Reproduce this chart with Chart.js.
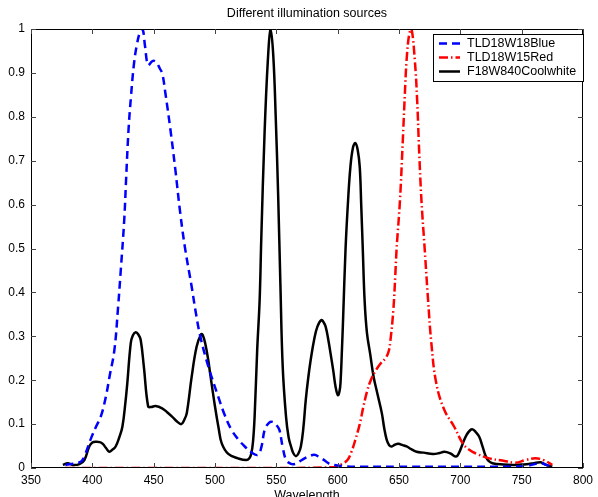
<!DOCTYPE html>
<html>
<head>
    <title>Different illumination sources</title>
    <script src="https://cdn.jsdelivr.net/npm/chart.js"></script>
    <style>
        body { margin: 0; background: #fff; }
        canvas { display: block; }
    </style>
</head>
<body>
    <canvas id="grafico" width="598" height="497"></canvas>

    <script>
        // tick labels
        const xTicks = [350, 400, 450, 500, 550, 600, 650, 700, 750, 800];
        const yTicks = [0, 0.1, 0.2, 0.3, 0.4, 0.5, 0.6, 0.7, 0.8, 0.9, 1];

        const seriesNames = ['TLD18W18Blue', 'TLD18W15Red', 'F18W840Coolwhite'];

        // TLD18W18Blue
        const blueNm = [378, 383, 387, 391, 394, 399, 403, 407, 411, 414, 418, 421, 423, 426, 427.5, 429.5, 431.5, 434, 436.5, 439, 441,
            443, 445.5, 449, 452, 455, 457, 459.6, 463.7, 467.7, 471.7, 475.8, 481, 484, 488, 494.6, 502.7, 508, 513.4, 519, 524.3,
            530, 535, 538, 540.5, 544, 547, 550, 552.5, 555, 558, 561.5, 565, 569, 573, 577, 581, 585, 589, 593, 597, 605, 620, 650,
            700, 740, 755, 762, 766, 770, 775];
        const blueVal = [0.007, 0.009, 0.011, 0.015, 0.03, 0.068, 0.094, 0.118, 0.162, 0.208, 0.269, 0.367, 0.443, 0.565, 0.656, 0.77, 0.846, 0.922, 0.967, 0.994, 1.0,
            0.96, 0.918, 0.927, 0.925, 0.91, 0.899, 0.853, 0.77, 0.679, 0.58, 0.497, 0.413, 0.36, 0.3, 0.231, 0.162, 0.12, 0.087, 0.065, 0.049,
            0.035, 0.03, 0.05, 0.087, 0.103, 0.105, 0.098, 0.087, 0.05, 0.018, 0.01, 0.009, 0.015, 0.022, 0.027, 0.03, 0.025, 0.018, 0.01, 0.007, 0.004, 0.003, 0.003,
            0.003, 0.003, 0.005, 0.01, 0.011, 0.007, 0.003];

        // TLD18W15Red
        const redNm = [378, 450, 550, 598, 604, 608, 611, 614.4, 618, 621, 624, 627, 631, 635, 639, 641.5, 643, 645.4, 647, 648, 650.8,
            653, 654.8, 656.2, 658.4, 660.2, 662.9, 664.8, 666.4, 668.3, 671, 673.7, 676.4, 680.4, 687, 695, 702, 707, 712.7, 723.5,
            734.3, 745, 753, 761, 768, 775];
        const redVal = [0, 0, 0, 0.002, 0.01, 0.018, 0.035, 0.064, 0.1, 0.14, 0.175, 0.2, 0.222, 0.238, 0.25, 0.265, 0.29, 0.36, 0.44, 0.497, 0.61,
            0.74, 0.853, 0.929, 0.99, 1.0, 0.929, 0.838, 0.724, 0.61, 0.497, 0.383, 0.284, 0.193, 0.132, 0.094, 0.056, 0.042, 0.033, 0.022,
            0.017, 0.012, 0.018, 0.022, 0.018, 0.007];

        // F18W840Coolwhite
        const whiteNm = [376, 380, 384, 389.5, 393.5, 397.5, 400, 403, 406, 408.5, 411, 413.8, 416.5, 419, 422, 424.5, 427, 428.5, 431.3, 433,
            435.4, 437.5, 439.4, 442, 445.5, 448, 451.5, 456.9, 461, 465, 469, 472.5, 475, 477, 481, 485, 488.7, 490, 492, 494.5, 496,
            500, 503, 505.5, 510.8, 518.8, 525.5, 528, 529.6, 531, 532.3, 534.4, 536.4, 537.7, 540.4, 543.1, 545.3, 547.5, 549.5, 551.5,
            553.3, 555.2, 557.9, 560, 562, 564, 566, 568, 570, 572, 574, 576, 578, 581, 583.5, 586.7, 588.5, 590.2, 592.5, 594.2, 596.5,
            598.3, 600.2, 601.5, 602.3, 603.5, 604.5, 606.4, 608.5, 610.4, 612.5, 614.4, 616.3, 618, 619.2, 620.5, 622, 623.9, 626.5,
            629.3, 632.5, 636, 638, 640, 642, 644.1, 646.5, 649.5, 653, 656.2, 660, 664.3, 670, 677.7, 683, 687, 692, 696.6, 699, 702,
            705, 708, 710, 712.5, 715.4, 718, 720.8, 723, 726.2, 735, 742.4, 750, 755.8, 760, 765.3, 768, 772, 775];
        const whiteVal = [0.007, 0.011, 0.007, 0.009, 0.018, 0.049, 0.058, 0.06, 0.059, 0.055, 0.046, 0.037, 0.042, 0.049, 0.07, 0.094, 0.15, 0.193, 0.284, 0.302,
            0.309, 0.304, 0.292, 0.231, 0.14, 0.139, 0.141, 0.136, 0.127, 0.117, 0.106, 0.1, 0.11, 0.125, 0.208, 0.276, 0.305, 0.303, 0.284, 0.246, 0.216,
            0.14, 0.09, 0.056, 0.032, 0.022, 0.018, 0.022, 0.033, 0.06, 0.117, 0.269, 0.383, 0.519, 0.762, 0.929, 1.0, 0.94, 0.8, 0.62,
            0.42, 0.231, 0.117, 0.07, 0.049, 0.033, 0.027, 0.033, 0.049, 0.09, 0.155, 0.205, 0.246, 0.295, 0.322, 0.337, 0.332, 0.322, 0.29, 0.261, 0.22,
            0.185, 0.166, 0.175, 0.193, 0.27, 0.345, 0.497, 0.61, 0.686, 0.73, 0.74, 0.725, 0.686, 0.6, 0.497, 0.38, 0.307, 0.26,
            0.208, 0.168, 0.125, 0.09, 0.064, 0.052, 0.049, 0.053, 0.055, 0.052, 0.049, 0.043, 0.037, 0.035, 0.032, 0.034, 0.037, 0.033, 0.026, 0.035, 0.056,
            0.075, 0.086, 0.088, 0.082, 0.071, 0.05, 0.026, 0.016, 0.011, 0.008, 0.007, 0.008, 0.009, 0.011, 0.013, 0.01, 0.005, 0.004];

        const fonte = '"Liberation Sans", Arial, Helvetica, sans-serif';
        const estilos = [
            { cor: '#0000ff', traco: [8, 5] },
            { cor: '#ff0000', traco: [9, 3, 1.5, 3] },
            { cor: '#000000', traco: [] }
        ];

        function pontos(xs, ys) {
            return xs.map((x, i) => ({ x: x, y: ys[i] }));
        }

        // caixa, ticks para dentro, legenda e titulos no estilo MATLAB
        const moldura = {
            id: 'moldura',
            afterDraw(chart) {
                const ctx = chart.ctx;
                const a = chart.chartArea;
                const sx = chart.scales.x, sy = chart.scales.y;
                ctx.save();
                ctx.strokeStyle = '#000';
                ctx.lineWidth = 1;
                ctx.setLineDash([]);
                ctx.strokeRect(a.left + 0.5, a.top + 0.5, a.right - a.left - 1, a.bottom - a.top - 1);

                ctx.strokeStyle = '#444';
                ctx.beginPath();
                xTicks.forEach(v => {
                    const px = Math.round(sx.getPixelForValue(v)) + 0.5;
                    ctx.moveTo(px, a.bottom); ctx.lineTo(px, a.bottom - 5);
                    ctx.moveTo(px, a.top); ctx.lineTo(px, a.top + 5);
                });
                yTicks.forEach(v => {
                    const py = Math.round(sy.getPixelForValue(v)) + 0.5;
                    ctx.moveTo(a.left, py); ctx.lineTo(a.left + 5, py);
                    ctx.moveTo(a.right, py); ctx.lineTo(a.right - 5, py);
                });
                ctx.stroke();

                // titulo e rotulo do eixo x
                ctx.fillStyle = '#000';
                ctx.textAlign = 'center';
                ctx.textBaseline = 'middle';
                ctx.font = '12.5px ' + fonte;
                ctx.fillText('Different illumination sources', (a.left + a.right) / 2, 14);
                ctx.font = '12.5px ' + fonte;
                ctx.fillText('Wavelength', (a.left + a.right) / 2, 496);

                // legenda
                const lx = 433, ly = 34, lw = 150, lh = 47;
                ctx.fillStyle = '#fff';
                ctx.fillRect(lx, ly, lw, lh);
                ctx.strokeStyle = '#000';
                ctx.lineWidth = 1;
                ctx.strokeRect(lx + 0.5, ly + 0.5, lw, lh);
                ctx.font = '12.5px ' + fonte;
                ctx.textAlign = 'left';
                seriesNames.forEach((nome, i) => {
                    const y = 43.5 + i * 14;
                    ctx.strokeStyle = estilos[i].cor;
                    ctx.lineWidth = 2.5;
                    ctx.setLineDash(estilos[i].traco);
                    ctx.beginPath();
                    ctx.moveTo(439, y); ctx.lineTo(460, y);
                    ctx.stroke();
                    ctx.setLineDash([]);
                    ctx.fillStyle = '#000';
                    ctx.fillText(nome, 467, y);
                });
                ctx.restore();
            }
        };

        const dadosSeries = [pontos(blueNm, blueVal), pontos(redNm, redVal), pontos(whiteNm, whiteVal)];

        const grafico = new Chart(document.getElementById('grafico').getContext('2d'), {
            type: 'line',
            data: {
                datasets: seriesNames.map((nome, i) => ({
                    label: nome,
                    data: dadosSeries[i],
                    borderColor: estilos[i].cor,
                    borderDash: estilos[i].traco,
                    borderWidth: 2.5,
                    pointRadius: 0,
                    fill: false,
                    tension: 0.4
                }))
            },
            options: {
                responsive: false,
                animation: false,
                devicePixelRatio: 1,
                layout: { padding: { top: 29, right: 10, left: 0, bottom: 0 } },
                plugins: {
                    legend: { display: false },
                    title: { display: false },
                    tooltip: { enabled: false }
                },
                scales: {
                    x: {
                        type: 'linear',
                        min: 350,
                        max: 800,
                        afterFit: s => { s.height = 29; },
                        afterBuildTicks: s => { s.ticks = xTicks.map(v => ({ value: v })); },
                        grid: { drawOnChartArea: false, drawTicks: false },
                        border: { display: false },
                        ticks: {
                            padding: 5,
                            color: '#000',
                            maxRotation: 0,
                            autoSkip: false,
                            font: { family: fonte, size: 12 }
                        }
                    },
                    y: {
                        type: 'linear',
                        min: 0,
                        max: 1,
                        afterFit: s => { s.width = 31; },
                        afterBuildTicks: s => { s.ticks = yTicks.map(v => ({ value: v })); },
                        grid: { drawOnChartArea: false, drawTicks: false },
                        border: { display: false },
                        ticks: {
                            padding: 6,
                            color: '#000',
                            autoSkip: false,
                            font: { family: fonte, size: 12 },
                            callback: v => String(Number(v.toFixed(1)))
                        }
                    }
                }
            },
            plugins: [moldura]
        });
    </script>
</body>
</html>
